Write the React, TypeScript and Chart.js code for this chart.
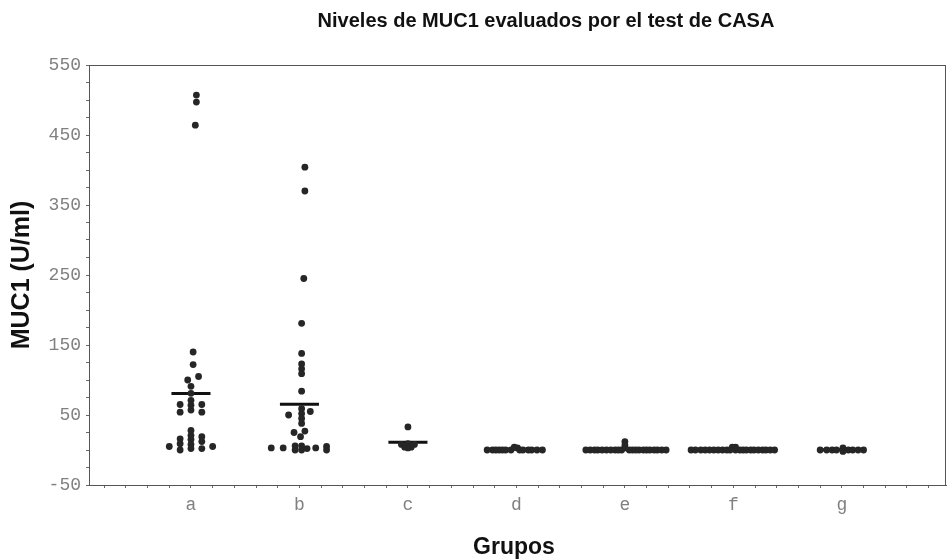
import React, { useEffect, useRef } from "react";
import { Chart, registerables } from "chart.js";

Chart.register(...registerables);

const groupLabels = ["a", "b", "c", "d", "e", "f", "g"];
const titleText = "Niveles de MUC1 evaluados por el test de CASA";
const yTitle = "MUC1 (U/ml)";
const xTitle = "Grupos";

// values (U/ml) and horizontal spread (in category units) of each point
const aValues = [507, 497, 464, 140, 122, 105, 100, 91, 81, 71, 64, 57, 65, 54, 65, 54, 28, 21, 15, 8, 2, 16, 9, 0, 19, 12, 2, 5, 5];
const aSpread = [0.05, 0.05, 0.04, 0.02, 0.02, 0.07, -0.03, 0, 0, 0, 0, 0, -0.1, -0.1, 0.1, 0.1, 0, 0, 0, 0, 0, -0.1, -0.1, -0.1, 0.1, 0.1, 0.1, -0.2, 0.2];
const bValues = [404, 370, 245, 181, 138, 123, 116, 109, 84, 59, 52, 45, 38, 50, 55, 25, 27, 19, 3, 3, 6, 0, 6, 0, 2, 3, 5, 0];
const bSpread = [0.05, 0.05, 0.04, 0.02, 0.02, 0.02, 0.02, 0.02, 0.02, 0.02, 0.02, 0.02, 0.02, -0.1, 0.1, -0.05, 0.05, 0.01, -0.26, -0.15, -0.04, -0.04, 0.02, 0.02, 0.07, 0.15, 0.25, 0.25];
const cValues = [33, 8, 9, 8, 4, 4, 3];
const cSpread = [0, -0.06, 0, 0.06, -0.03, 0.03, 0];
const dValues = [0, 0, 0, 0, 0, 0, 0, 4, 3, 0, 0, 0, 0, 0, 0];
const dSpread = [-0.27, -0.22, -0.19, -0.16, -0.13, -0.1, -0.05, -0.02, 0.01, 0.03, 0.06, 0.11, 0.14, 0.19, 0.24];
const eValues = [0, 0, 0, 0, 0, 0, 0, 0, 0, 0, 12, 7, 3, 0, 0, 0, 0, 0, 0, 0, 0, 0, 0, 0];
const eSpread = [-0.36, -0.32, -0.28, -0.25, -0.21, -0.17, -0.13, -0.09, -0.06, -0.03, 0.0, 0.0, 0.0, 0.04, 0.07, 0.1, 0.13, 0.17, 0.2, 0.23, 0.27, 0.3, 0.34, 0.38];
const fValues = [0, 0, 0, 0, 0, 0, 0, 0, 0, 0, 4, 4, 0, 0, 0, 0, 0, 0, 0, 0, 0, 0, 0];
const fSpread = [-0.39, -0.35, -0.3, -0.26, -0.22, -0.18, -0.14, -0.1, -0.06, -0.03, -0.01, 0.02, 0.02, 0.06, 0.09, 0.12, 0.16, 0.19, 0.23, 0.27, 0.3, 0.34, 0.38];
const gValues = [0, 0, 0, 0, 3, -2, 0, 0, 0, 0];
const gSpread = [-0.2, -0.14, -0.09, -0.05, 0.01, 0.01, 0.06, 0.1, 0.15, 0.2];
const groupMeans = [80.7, 65.4, 10.9, 1, 1, 1, 0.5];

const groupValues = [aValues, bValues, cValues, dValues, eValues, fValues, gValues];
const groupSpread = [aSpread, bSpread, cSpread, dSpread, eSpread, fSpread, gSpread];

const yMin = -50;
const yMax = 550;
const xMin = 0.06;
const xMax = 7.96;

const textPlugin = {
  id: "textPlugin",
  afterDraw(chart: any) {
    const ctx = chart.ctx;
    const area = chart.chartArea;
    ctx.save();
    // frame
    ctx.strokeStyle = "#555";
    ctx.lineWidth = 1;
    ctx.strokeRect(area.left + 0.5, area.top + 0.5, area.right - area.left - 1, area.bottom - area.top);
    ctx.fillStyle = "#111";
    ctx.textAlign = "center";
    ctx.textBaseline = "middle";
    ctx.font = "bold 20px 'Liberation Sans', Arial, sans-serif";
    ctx.fillText(titleText, 546, 21);
    ctx.font = "bold 23px 'Liberation Sans', Arial, sans-serif";
    ctx.fillText(xTitle, 514, 548);
    ctx.font = "bold 25px 'Liberation Sans', Arial, sans-serif";
    ctx.translate(22, 275);
    ctx.rotate(-Math.PI / 2);
    ctx.fillText(yTitle, 0, 0);
    ctx.restore();
  },
};

export default function App() {
  const ref = useRef<HTMLCanvasElement | null>(null);
  useEffect(() => {
    if (!ref.current) return;
    const points: { x: number; y: number }[] = [];
    groupValues.forEach((vals, gi) => {
      vals.forEach((v, i) => points.push({ x: gi + 1 + groupSpread[gi][i], y: v }));
    });
    const meanSets = groupMeans.map((m, gi) => ({
      type: "line" as const,
      data: [
        { x: gi + 1 - 0.18, y: m },
        { x: gi + 1 + 0.18, y: m },
      ],
      borderColor: "#111",
      borderWidth: 3,
      pointRadius: 0,
      showLine: true,
    }));
    const chart = new Chart(ref.current, {
      type: "scatter",
      data: {
        datasets: [
          {
            data: points,
            pointRadius: 3.4,
            pointBackgroundColor: "#262626",
            pointBorderWidth: 0,
            pointBorderColor: "#262626",
          } as any,
          ...meanSets,
        ],
      },
      options: {
        animation: false,
        responsive: false,
        layout: { padding: { top: 65, right: 0, left: 0, bottom: 0 } },
        plugins: { legend: { display: false }, tooltip: { enabled: false } },
        scales: {
          x: {
            type: "linear",
            min: xMin,
            max: xMax,
            afterFit(scale: any) {
              scale.height = 75;
              scale.paddingLeft = 0;
              scale.paddingRight = 0;
            },
            afterBuildTicks(scale: any) {
              const t = [];
              for (let i = 1; i <= 39; i++) t.push({ value: Math.round(i * 2) / 10 });
              scale.ticks = t;
            },
            ticks: {
              autoSkip: false,
              maxRotation: 0,
              padding: 6,
              color: "#808080",
              font: { family: "'Liberation Mono', monospace", size: 18 },
              callback(v: any) {
                const n = Number(v);
                return Number.isInteger(n) && n >= 1 && n <= 7 ? groupLabels[n - 1] : "";
              },
            },
            grid: { drawOnChartArea: false, tickLength: 3, color: "#666" },
            border: { color: "#555" },
          },
          y: {
            min: yMin,
            max: yMax,
            afterFit(scale: any) {
              scale.width = 89;
              scale.paddingTop = 0;
              scale.paddingBottom = 0;
            },
            afterBuildTicks(scale: any) {
              const t = [];
              for (let v = yMin; v <= yMax; v += 25) t.push({ value: v });
              scale.ticks = t;
            },
            ticks: {
              autoSkip: false,
              padding: 5,
              color: "#808080",
              font: { family: "'Liberation Mono', monospace", size: 18 },
              callback(v: any) {
                const n = Number(v);
                return (n - yMin) % 100 === 0 ? String(n) : "";
              },
            },
            grid: { drawOnChartArea: false, tickLength: 3, color: "#666" },
            border: { color: "#555" },
          },
        },
      },
      plugins: [textPlugin],
    });
    return () => chart.destroy();
  }, []);
  return (
    <div style={{ position: "absolute", left: 0, top: 0, width: 947, height: 560, overflow: "hidden" }}>
      <canvas ref={ref} width={950} height={560} style={{ width: 950, height: 560, display: "block" }} />
    </div>
  );
}
